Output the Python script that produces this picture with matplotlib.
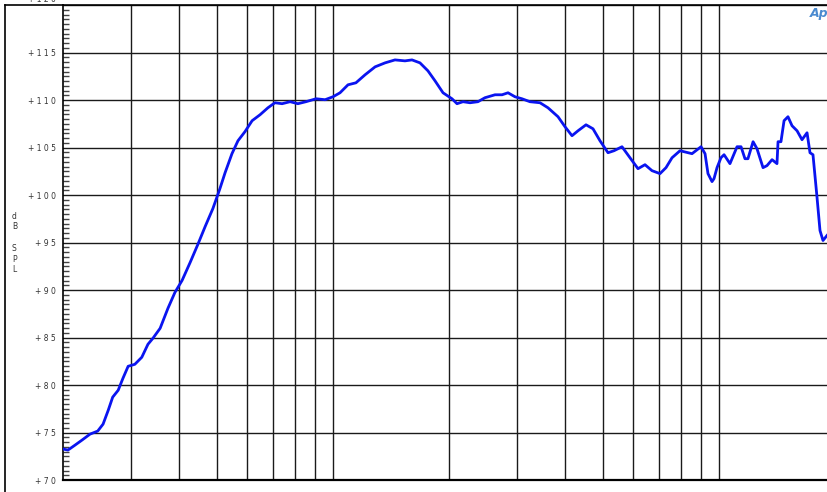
import numpy as np
import matplotlib.pyplot as plt
from matplotlib.lines import Line2D
from matplotlib.ticker import FixedLocator, MultipleLocator, NullFormatter
from matplotlib.transforms import ScaledTranslation

# frequency response (Hz, dB SPL)
freq = [20.0, 20.6, 21.5, 22.4, 23.5, 24.6, 25.4, 26.2, 26.9, 27.8,
        28.6, 29.5, 30.7, 32.0, 33.2, 34.2, 35.7, 37.4, 39.0, 40.7,
        42.7, 44.7, 46.7, 48.9, 51.0, 52.6, 54.8, 56.8, 59.2, 61.8,
        64.8, 67.9, 70.8, 73.9, 77.5, 81.2, 85.2, 90.5, 95.5, 100.1,
        104.4, 109.5, 114.8, 121.2, 128.7, 136.6, 144.9, 153.8, 160.4, 168.2,
        176.4, 184.0, 193.0, 203.6, 209.8, 217.4, 226.7, 237.7, 247.9, 263.2,
        274.5, 284.4, 296.5, 309.1, 324.2, 344.2, 361.0, 383.2, 399.5, 416.6,
        431.8, 452.9, 472.2, 492.3, 516.4, 535.2, 561.4, 588.8, 617.6, 643.9,
        671.4, 704.2, 729.9, 756.6, 793.5, 852.4, 899.4, 921.2, 937.6, 960.4,
        971.9, 989.6, 1013, 1032, 1069, 1115, 1142, 1169, 1190, 1227,
        1256, 1302, 1333, 1374, 1415, 1424, 1449, 1476, 1511, 1548,
        1595, 1643, 1693, 1723, 1754, 1797, 1829, 1862, 1907]
spl = [73.26, 73.15, 73.68, 74.20, 74.83, 75.15, 75.88, 77.35, 78.72, 79.45,
       80.71, 81.97, 82.18, 82.92, 84.29, 84.92, 85.97, 88.07, 89.75, 91.01,
       92.90, 94.79, 96.68, 98.57, 100.67, 102.35, 104.35, 105.71, 106.66, 107.82,
       108.45, 109.18, 109.71, 109.61, 109.82, 109.61, 109.82, 110.13, 110.03, 110.34,
       110.76, 111.60, 111.81, 112.65, 113.49, 113.91, 114.22, 114.12, 114.22, 113.91,
       113.07, 112.02, 110.76, 110.13, 109.61, 109.82, 109.71, 109.82, 110.24, 110.55,
       110.55, 110.76, 110.34, 110.13, 109.82, 109.71, 109.18, 108.24, 107.19, 106.24,
       106.76, 107.39, 106.97, 105.71, 104.45, 104.66, 105.08, 103.92, 102.77, 103.19,
       102.56, 102.25, 102.88, 103.92, 104.66, 104.35, 105.08, 104.35, 102.25, 101.41,
       101.72, 102.88, 103.92, 104.24, 103.30, 105.08, 105.08, 103.82, 103.82, 105.61,
       104.87, 102.88, 103.09, 103.72, 103.30, 105.61, 105.61, 107.82, 108.24, 107.29,
       106.76, 105.82, 106.55, 104.45, 104.24, 99.73, 96.26, 95.21, 95.74]

grid_freqs = [30, 40, 50, 60, 70, 80, 90, 100,
              200, 300, 400, 500, 600, 700, 800, 900, 1000]
db_ticks = [70, 75, 80, 85, 90, 95, 100, 105, 110, 115, 120]

W, H = 827, 492
fig = plt.figure(figsize=(W / 100, H / 100), dpi=100)
ax = fig.add_axes([63 / W, 12 / H, (W - 63) / W, (480 - 5) / H])

ax.semilogx(freq, spl, color='#0a14f0', lw=2.0, solid_joinstyle='round', zorder=3)

ax.set_xlim(20, 1907)
ax.set_ylim(70, 120)

ax.xaxis.set_major_locator(FixedLocator(grid_freqs))
ax.xaxis.set_minor_locator(FixedLocator([]))
ax.xaxis.set_major_formatter(NullFormatter())
ax.tick_params(axis='x', length=0)

ax.yaxis.set_major_locator(FixedLocator(db_ticks))
ax.yaxis.set_minor_locator(MultipleLocator(0.5))
ax.set_yticklabels([' '.join('+' + str(v)) for v in db_ticks])
ax.tick_params(axis='y', which='major', direction='in', length=0, pad=5,
               labelsize=5.5, labelcolor='#333333')
ax.tick_params(axis='y', which='minor', direction='in', length=4.5,
               width=1.0, color='#444444')

# the top label is cut off by the page edge in the original
top_lbl = ax.get_yticklabels()[-1]
top_lbl.set_transform(top_lbl.get_transform()
                      + ScaledTranslation(0, 4.5 / 72, fig.dpi_scale_trans))

ax.grid(True, which='major', color='#1a1a1a', lw=1.0)

for side in ['left', 'top', 'bottom']:
    ax.spines[side].set_color('black')
ax.spines['left'].set_linewidth(1.2)
ax.spines['top'].set_linewidth(1.2)
ax.spines['bottom'].set_linewidth(1.6)
ax.spines['right'].set_visible(False)

# outer frame of the original report
fig.add_artist(Line2D([5 / W, 5 / W], [0, 1 - 5 / H], transform=fig.transFigure,
                      color='black', lw=1.2))
fig.add_artist(Line2D([5 / W, 63 / W], [1 - 5 / H, 1 - 5 / H], transform=fig.transFigure,
                      color='black', lw=1.2))

fig.text(12 / W, 1 - 243 / H, 'd\nB\n\nS\nP\nL', fontsize=5.5, color='#333333',
         ha='left', va='center', linespacing=1.25)

fig.text(810 / W, 1 - 17 / H, 'Ap', fontsize=9, style='italic', weight='bold',
         color='#4a8ad0', ha='left', va='baseline')

fig.savefig('out.png', dpi=100)
